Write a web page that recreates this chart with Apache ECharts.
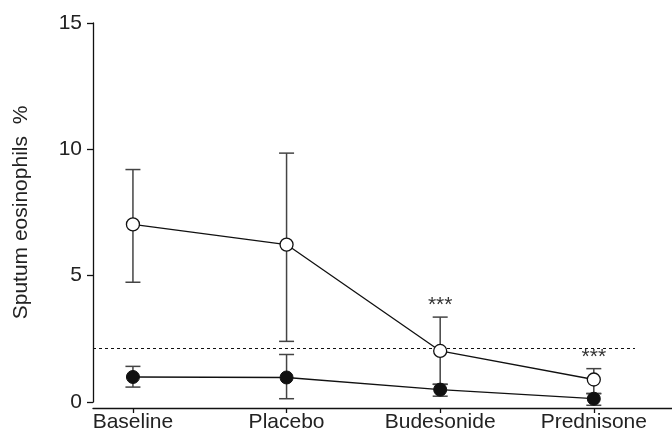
<!DOCTYPE html>
<html><head><meta charset="utf-8">
<script src="https://cdn.jsdelivr.net/npm/echarts@6/dist/echarts.min.js"></script>
<style>html,body{margin:0;padding:0;background:#fff}#c{width:672px;height:435px}</style>
</head><body><div id="c"></div>
<script>
const categories = ['Baseline', 'Placebo', 'Budesonide', 'Prednisone'];
const yTicks = [0, 5, 10, 15];
const openMean = [7.03, 6.23, 2.02, 0.89];
const openUpper = [9.2, 9.85, 3.36, 1.32];
const openLower = [4.74, 2.40, 0.70, 0.34];
const filledMean = [0.99, 0.97, 0.49, 0.13];
const filledUpper = [1.41, 1.88, 0.70, 0.33];
const filledLower = [0.59, 0.13, 0.23, -0.13];
const significance = ['', '', '***', '***'];
const referenceLevel = 2.14;

const FONT = '"Liberation Sans", Arial, Helvetica, sans-serif';
const idx = categories.map((c, i) => i);
const X_MIN = -0.26, X_MAX = 3.509, REF_END = 3.268;

function errorBars(lower, upper, sig, color) {
  return {
    type: 'custom',
    clip: false,
    z: 3,
    data: idx.map(i => [i, lower[i], upper[i]]),
    renderItem: function (params, api) {
      const i = params.dataIndex;
      const x = api.value(0);
      const lo = api.coord([x, api.value(1)]);
      const hi = api.coord([x, api.value(2)]);
      const hw = 7.5;
      const st = { stroke: color, lineWidth: 1.5 };
      const children = [
        { type: 'line', shape: { x1: lo[0], y1: lo[1], x2: hi[0], y2: hi[1] }, style: st },
        { type: 'line', shape: { x1: hi[0] - hw, y1: hi[1], x2: hi[0] + hw, y2: hi[1] }, style: st },
        { type: 'line', shape: { x1: lo[0] - hw, y1: lo[1], x2: lo[0] + hw, y2: lo[1] }, style: st }
      ];
      if (sig && sig[i]) {
        children.push({
          type: 'text', x: hi[0], y: hi[1] - 1,
          style: { text: sig[i], fill: '#333', font: '21px ' + FONT, textAlign: 'center', textVerticalAlign: 'bottom' }
        });
      }
      return { type: 'group', children: children };
    }
  };
}

const chart = echarts.init(document.getElementById('c'), null, { renderer: 'canvas' });
chart.setOption({
  animation: false,
  backgroundColor: '#fff',
  grid: { left: 93, right: 0, top: 23, bottom: 33 },
  xAxis: {
    type: 'value', min: X_MIN, max: X_MAX, offset: 6,
    axisLine: { show: true, onZero: false, lineStyle: { color: '#111', width: 1.3 } },
    axisTick: { show: true, length: 5, customValues: idx, lineStyle: { color: '#111', width: 1.3 } },
    axisLabel: { customValues: idx, formatter: v => categories[Math.round(v)], fontSize: 21, fontFamily: FONT, color: '#222', margin: 4 },
    splitLine: { show: false }
  },
  yAxis: {
    type: 'value', min: 0, max: 15, interval: 5,
    name: 'Sputum eosinophils  %', nameLocation: 'middle', nameGap: 61, nameRotate: 90,
    nameTextStyle: { fontSize: 21, fontFamily: FONT, color: '#222' },
    axisLine: { show: true, onZero: false, lineStyle: { color: '#111', width: 1.3 } },
    axisTick: { show: true, length: 6, customValues: yTicks, lineStyle: { color: '#111', width: 1.3 } },
    axisLabel: { customValues: yTicks, fontSize: 21, fontFamily: FONT, color: '#222', margin: 11 },
    splitLine: { show: false }
  },
  series: [
    {
      type: 'line', silent: true, symbol: 'none', data: [], z: 1,
      markLine: {
        silent: true, symbol: 'none', label: { show: false },
        lineStyle: { color: '#111', type: [3, 3], width: 1 },
        data: [[{ coord: [X_MIN, referenceLevel] }, { coord: [REF_END, referenceLevel] }]]
      }
    },
    errorBars(filledLower, filledUpper, null, '#444'),
    errorBars(openLower, openUpper, significance, '#444'),
    {
      type: 'line', z: 5, data: idx.map(i => [i, filledMean[i]]),
      symbol: 'circle', symbolSize: 13,
      itemStyle: { color: '#111', borderColor: '#111', borderWidth: 1 },
      lineStyle: { color: '#111', width: 1.3 }
    },
    {
      type: 'line', z: 6, data: idx.map(i => [i, openMean[i]]),
      symbol: 'circle', symbolSize: 13,
      itemStyle: { color: '#fff', borderColor: '#111', borderWidth: 1.3 },
      lineStyle: { color: '#111', width: 1.3 }
    }
  ]
});
</script></body></html>
